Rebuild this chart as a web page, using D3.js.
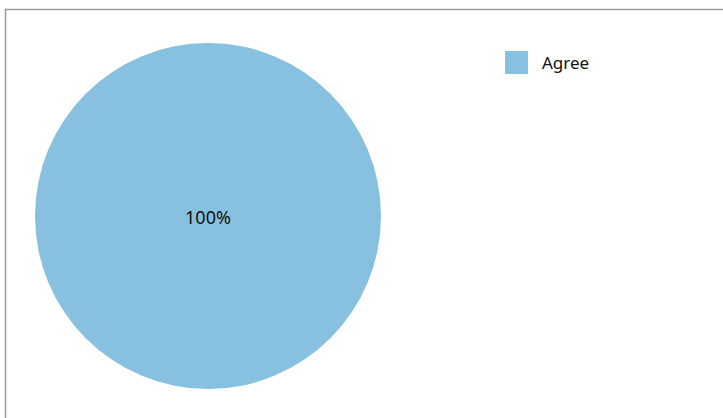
<!DOCTYPE html>
<html>
<head>
<meta charset="utf-8">
<script src="https://cdn.jsdelivr.net/npm/d3@7"></script>
<style>
	html, body { margin: 0; padding: 0; background: #fff; }
	body { font-family: "Noto Sans", "Open Sans", sans-serif; }
</style>
</head>
<body>
<div id="chart"></div>
<script>
const categories = ["Agree"];
const values = [100];
const colors = ["#88c1df"];

const W = 723, H = 418;
const CX = 208, CY = 216, R = 173;

const svg = d3.select("#chart").append("svg")
	.attr("width", W)
	.attr("height", H);

// frame (top and left edges visible)
svg.append("path")
	.attr("d", "M5.5," + H + "V9.5H" + W)
	.attr("fill", "none")
	.attr("stroke", "#9a9a9a")
	.attr("stroke-width", 1.5);

const total = d3.sum(values);
const pie = d3.pie().sort(null).value(d => d);
const arc = d3.arc().innerRadius(0).outerRadius(R);

const g = svg.append("g").attr("transform", "translate(" + CX + "," + CY + ")");

g.selectAll("path.slice")
	.data(pie(values))
	.enter().append("path")
	.attr("class", "slice")
	.attr("d", arc)
	.attr("fill", (d, i) => colors[i]);

g.selectAll("text.lbl")
	.data(pie(values))
	.enter().append("text")
	.attr("class", "lbl")
	.attr("transform", d => values.length === 1 ? "translate(0,2)" : "translate(" + d3.arc().innerRadius(R * 0.6).outerRadius(R * 0.6).centroid(d) + ")")
	.attr("dy", "0.35em")
	.attr("text-anchor", "middle")
	.style("font-size", "18px")
	.style("fill", "#111")
	.text(d => Math.round(d.data / total * 100) + "%");

// legend
const legend = svg.selectAll(".legend")
	.data(categories)
	.enter().append("g")
	.attr("class", "legend")
	.attr("transform", (d, i) => "translate(505," + (51 + i * 30) + ")");
legend.append("rect")
	.attr("width", 23)
	.attr("height", 23)
	.attr("fill", (d, i) => colors[i]);
legend.append("text")
	.attr("x", 37)
	.attr("y", 12)
	.attr("dy", "0.35em")
	.style("font-size", "17px")
	.style("fill", "#111")
	.text(d => d);
</script>
</body>
</html>
